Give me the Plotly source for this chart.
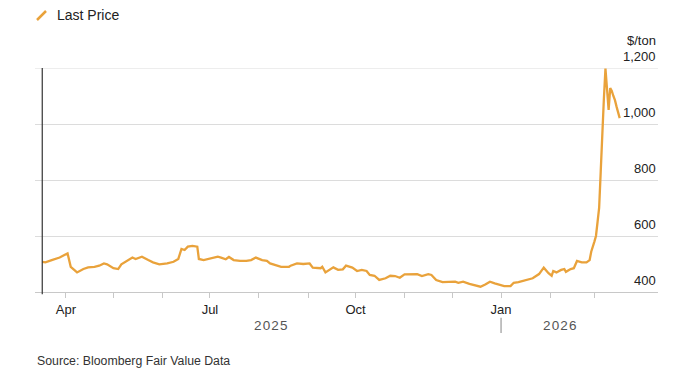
import plotly.graph_objects as go

dates = [
    "2025-03-17", "2025-03-19", "2025-03-23", "2025-03-25", "2025-03-28", "2025-03-31",
    "2025-04-02", "2025-04-04", "2025-04-06", "2025-04-08", "2025-04-12", "2025-04-15",
    "2025-04-19", "2025-04-22", "2025-04-25", "2025-04-27", "2025-05-01", "2025-05-04",
    "2025-05-06", "2025-05-10", "2025-05-13", "2025-05-15", "2025-05-19", "2025-05-23",
    "2025-05-26", "2025-05-30", "2025-06-02", "2025-06-04", "2025-06-08", "2025-06-11",
    "2025-06-13", "2025-06-15", "2025-06-17", "2025-06-20", "2025-06-23", "2025-06-24",
    "2025-06-27", "2025-07-01", "2025-07-03", "2025-07-06", "2025-07-08", "2025-07-11",
    "2025-07-13", "2025-07-16", "2025-07-20", "2025-07-24", "2025-07-27", "2025-07-30",
    "2025-08-03", "2025-08-06", "2025-08-08", "2025-08-12", "2025-08-15", "2025-08-20",
    "2025-08-21", "2025-08-25", "2025-08-29", "2025-09-02", "2025-09-04", "2025-09-09",
    "2025-09-10", "2025-09-12", "2025-09-15", "2025-09-17", "2025-09-20", "2025-09-23",
    "2025-09-25", "2025-09-29", "2025-10-02", "2025-10-05", "2025-10-08", "2025-10-10",
    "2025-10-13", "2025-10-16", "2025-10-20", "2025-10-23", "2025-10-26", "2025-10-29",
    "2025-11-01", "2025-11-04", "2025-11-09", "2025-11-12", "2025-11-16", "2025-11-18",
    "2025-11-21", "2025-11-25", "2025-11-30", "2025-12-03", "2025-12-05", "2025-12-08",
    "2025-12-12", "2025-12-15", "2025-12-19", "2025-12-22", "2025-12-25", "2025-12-28",
    "2025-12-31", "2026-01-03", "2026-01-07", "2026-01-09", "2026-01-12", "2026-01-15",
    "2026-01-18", "2026-01-21", "2026-01-25", "2026-01-28", "2026-01-31", "2026-02-02",
    "2026-02-03", "2026-02-05", "2026-02-08", "2026-02-10", "2026-02-11", "2026-02-14",
    "2026-02-16", "2026-02-18", "2026-02-21", "2026-02-24", "2026-02-26", "2026-02-27",
    "2026-03-01", "2026-03-02", "2026-03-03", "2026-03-04", "2026-03-05", "2026-03-06",
    "2026-03-07", "2026-03-08", "2026-03-10", "2026-03-11", "2026-03-12", "2026-03-13",
    "2026-03-14", "2026-03-15", "2026-03-16", "2026-03-17",
]
prices = [
    508, 506, 514, 518, 523, 532,
    538, 490, 479, 470, 482, 488,
    490, 494, 502, 499, 485, 482,
    499, 514, 523, 518, 526, 514,
    506, 499, 500, 502, 508, 518,
    554, 550, 562, 565, 562, 518,
    514, 520, 523, 526, 523, 517,
    525, 514, 511, 511, 514, 523,
    514, 511, 502, 496, 490, 490,
    494, 502, 500, 502, 487, 485,
    490, 470, 479, 488, 479, 481,
    494, 487, 475, 479, 475, 461,
    458, 443, 449, 458, 457, 451,
    463, 464, 464, 457, 464, 461,
    443, 435, 435, 437, 433, 437,
    429, 425, 419, 427, 437, 431,
    425, 421, 421, 433, 435, 440,
    443, 449, 464, 487, 467, 458,
    475, 470, 479, 482, 472, 482,
    485, 511, 506, 506, 514, 544,
    580, 600, 650, 700, 830, 980,
    1090, 1198, 1050, 1128, 1118, 1100,
    1085, 1062, 1038, 1021,
]

month_ticks = ["2025-04-01", "2025-05-01", "2025-06-01", "2025-07-01", "2025-08-01",
               "2025-09-01", "2025-10-01", "2025-11-01", "2025-12-01", "2026-01-01",
               "2026-02-01", "2026-03-01"]
month_labels = ["Apr", "", "", "Jul", "", "", "Oct", "", "", "Jan", "", ""]
y_ticks = [400, 600, 800, 1000, 1200]
y_labels = ["400", "600", "800", "1,000", "1,200"]
years = ["2025", "2026"]

LINE = "#E9A23B"
FONT = "Liberation Sans"

fig = go.Figure()
fig.add_trace(go.Scatter(
    x=dates, y=prices, mode="lines", name="Last Price",
    line=dict(color=LINE, width=2.3), cliponaxis=False, showlegend=False,
    hoverinfo="skip",
))

fig.update_layout(
    width=700, height=380,
    margin=dict(l=35, r=42, t=68, b=88, autoexpand=False),
    paper_bgcolor="white", plot_bgcolor="white",
    font=dict(family=FONT, size=13, color="#222"),
    xaxis=dict(
        range=["2025-03-12 10:00", "2026-04-10 05:00"],
        tickvals=month_ticks, ticktext=month_labels,
        ticks="outside", ticklen=5, tickcolor="#c8c8c8", tickwidth=1,
        showgrid=False, showline=True, linecolor="#c8c8c8", linewidth=1,
        zeroline=False, tickfont=dict(size=13, color="#222"),
        automargin=False, fixedrange=True,
    ),
    yaxis=dict(
        range=[400, 1200], side="right",
        tickvals=y_ticks, showticklabels=False, ticks="",
        showgrid=True, gridcolor="#dcdcdc", gridwidth=1,
        zeroline=False, showline=False,
        automargin=False, fixedrange=True,
    ),
)

# top gridline (at the range edge plotly omits it)
fig.add_shape(type="line", xref="paper", yref="y", x0=0, x1=1,
              y0=y_ticks[-1], y1=y_ticks[-1], layer="below",
              line=dict(color="#dcdcdc", width=1))

# y tick labels, sitting above their gridlines at the right edge
for v, lab in zip(y_ticks, y_labels):
    fig.add_annotation(xref="paper", yref="y", x=1, y=v, yshift=12,
                       text=lab, showarrow=False, xanchor="right", yanchor="middle",
                       font=dict(size=13, color="#222"))

# left start marker
fig.add_shape(type="line", xref="x", yref="paper", x0=dates[0], x1=dates[0],
              y0=-0.01, y1=1, line=dict(color="#333", width=1.2))

# unit label
fig.add_annotation(xref="paper", yref="paper", x=1, y=1.0, yshift=28,
                   text="$/ton", showarrow=False, xanchor="right", yanchor="middle",
                   font=dict(size=13, color="#222"))

# year labels
hs = "\u200a"
fig.add_annotation(xref="x", yref="paper", x="2025-08-08", y=-0.15,
                   text=hs.join(years[0]), showarrow=False, xanchor="center", yanchor="middle",
                   font=dict(size=13.5, color="#555"))
fig.add_annotation(xref="x", yref="paper", x="2026-02-07", y=-0.15,
                   text=hs.join(years[1]), showarrow=False, xanchor="center", yanchor="middle",
                   font=dict(size=13.5, color="#555"))
fig.add_shape(type="line", xref="x", yref="paper", x0="2026-01-01", x1="2026-01-01",
              y0=-0.115, y1=-0.183, line=dict(color="#999", width=1.2))

# legend
fig.add_shape(type="line", xref="paper", yref="paper",
              x0=(37 - 35) / 623, x1=(46 - 35) / 623,
              y0=(292 - 20) / 224, y1=(292 - 11) / 224,
              line=dict(color=LINE, width=2.5))
fig.add_annotation(xref="paper", yref="paper", x=(55 - 35) / 623, y=(292 - 15) / 224,
                   text="Last Price", showarrow=False, xanchor="left", yanchor="middle",
                   font=dict(size=14, color="#222"))

# source
fig.add_annotation(xref="paper", yref="paper", x=0, y=(292 - 361) / 224,
                   text="Source: Bloomberg Fair Value Data", showarrow=False,
                   xanchor="left", yanchor="middle",
                   font=dict(size=12.3, color="#333"))

fig.write_html("out.html", config={"displayModeBar": False},
               post_script="document.body.style.margin='0';")
